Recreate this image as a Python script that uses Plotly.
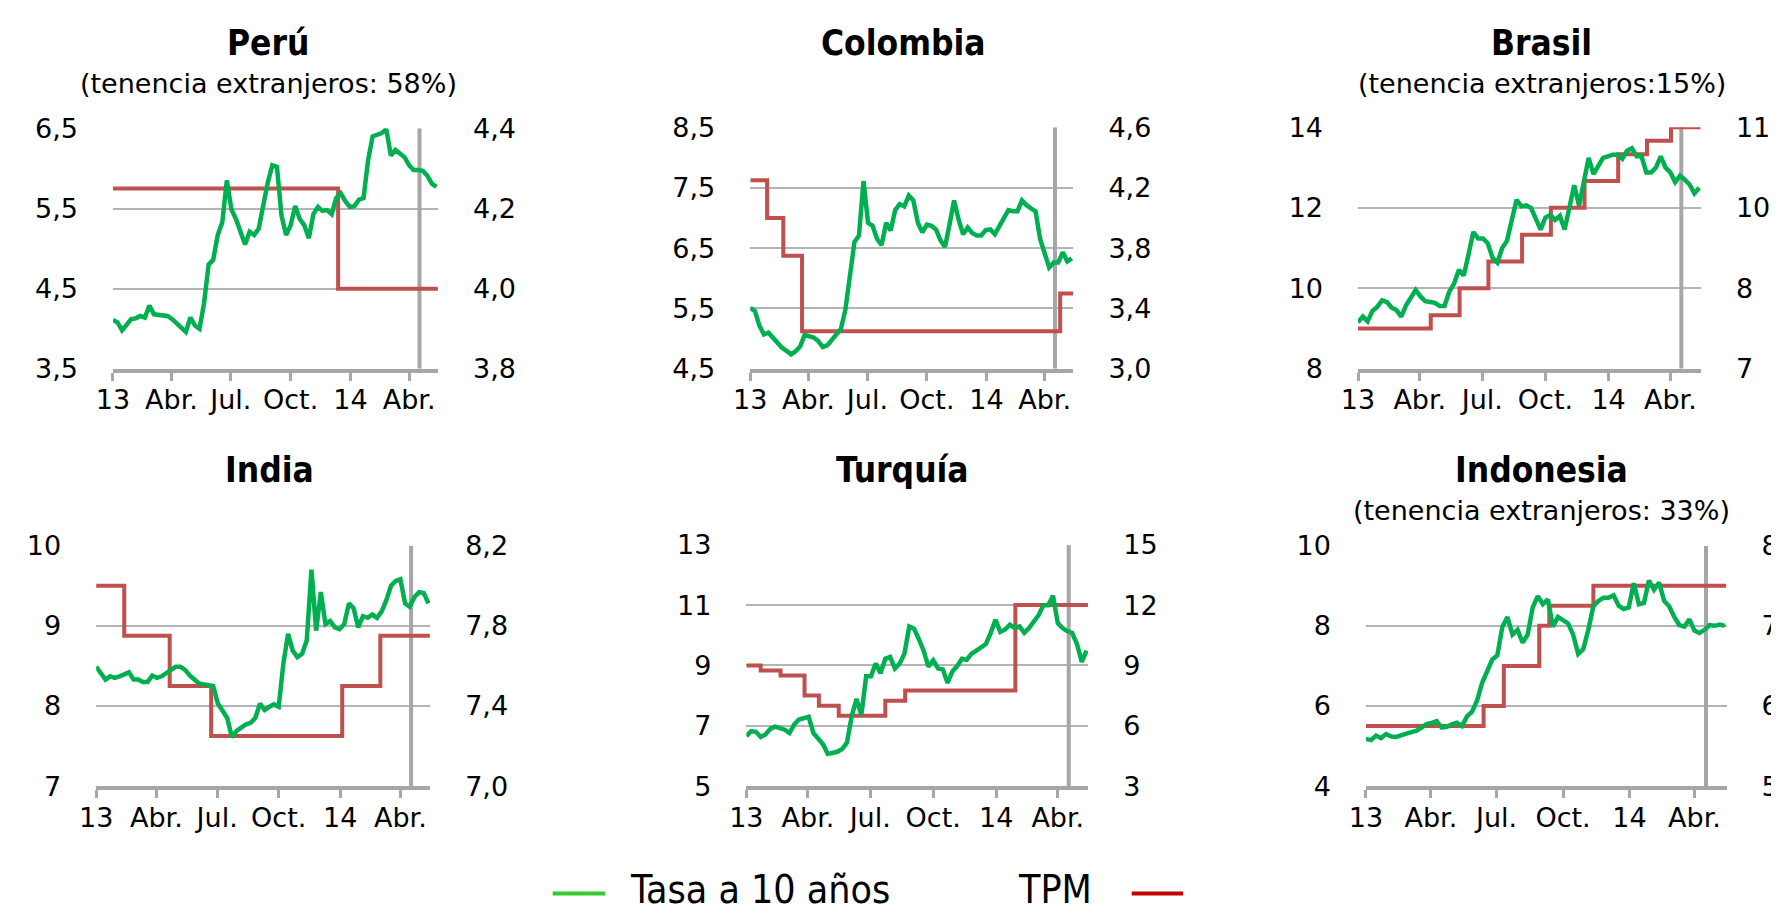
import pandas as pd
import plotly.graph_objects as go

# ---------------------------------------------------------------- datos
fechas = pd.date_range("2013-01-01", periods=72, freq="7D")  # semanal

tasa_peru = [4.11, 4.08, 3.98, 4.04, 4.12, 4.13, 4.16, 4.14, 4.29, 4.18,
             4.17, 4.16, 4.16, 4.12, 4.06, 4.00, 3.96, 4.14, 4.04, 4.00,
             4.32, 4.80, 4.86, 5.17, 5.33, 5.85, 5.49, 5.37, 5.21, 5.05,
             5.21, 5.17, 5.25, 5.57, 5.83, 6.04, 6.02, 5.41, 5.17, 5.29,
             5.53, 5.37, 5.29, 5.13, 5.43, 5.52, 5.47, 5.48, 5.43, 5.63,
             5.69, 5.59, 5.52, 5.53, 5.61, 5.63, 6.10, 6.40, 6.42, 6.44,
             6.49, 6.16, 6.23, 6.19, 6.14, 6.04, 5.98, 5.98, 5.97, 5.91,
             5.81, 5.77]
tasa_colombia = [5.51, 5.46, 5.22, 5.07, 5.10, 5.01, 4.93, 4.85, 4.80, 4.74,
                 4.79, 4.87, 5.06, 5.03, 5.02, 4.96, 4.86, 4.89, 4.98, 5.06,
                 5.16, 5.48, 6.02, 6.60, 6.71, 7.61, 6.92, 6.87, 6.65, 6.55,
                 6.92, 6.79, 7.13, 7.23, 7.19, 7.37, 7.29, 6.92, 6.76, 6.89,
                 6.87, 6.81, 6.63, 6.52, 6.89, 7.29, 6.97, 6.73, 6.84, 6.75,
                 6.71, 6.71, 6.80, 6.81, 6.73, 6.87, 7.02, 7.13, 7.11, 7.11,
                 7.29, 7.21, 7.16, 7.11, 6.65, 6.44, 6.18, 6.26, 6.26, 6.43,
                 6.28, 6.33]
tasa_brasil = [9.16, 9.30, 9.18, 9.44, 9.54, 9.70, 9.66, 9.52, 9.46, 9.30,
               9.58, 9.78, 9.96, 9.80, 9.68, 9.66, 9.64, 9.56, 9.56, 9.92,
               10.12, 10.46, 10.32, 10.84, 11.40, 11.24, 11.24, 11.12, 10.76, 10.64,
               11.00, 11.18, 11.64, 12.20, 12.04, 12.06, 12.00, 11.70, 11.46, 11.76,
               11.82, 11.70, 11.80, 11.46, 12.04, 12.56, 12.06, 12.68, 13.24, 12.84,
               13.04, 13.24, 13.28, 13.32, 13.32, 13.22, 13.42, 13.48, 13.28, 13.28,
               12.88, 12.88, 13.00, 13.28, 13.00, 12.88, 12.64, 12.80, 12.70, 12.58,
               12.36, 12.50]
tasa_india = [8.49, 8.42, 8.33, 8.37, 8.35, 8.37, 8.39, 8.42, 8.33, 8.33,
              8.30, 8.30, 8.38, 8.35, 8.37, 8.41, 8.45, 8.49, 8.49, 8.45,
              8.38, 8.33, 8.28, 8.27, 8.26, 8.25, 8.03, 7.93, 7.85, 7.61,
              7.69, 7.73, 7.77, 7.79, 7.85, 8.03, 7.95, 7.99, 8.02, 7.99,
              8.53, 8.90, 8.69, 8.61, 8.65, 8.82, 9.70, 8.94, 9.42, 9.02,
              9.06, 8.98, 8.96, 9.02, 9.28, 9.22, 8.98, 9.12, 9.10, 9.14,
              9.10, 9.18, 9.32, 9.50, 9.56, 9.58, 9.28, 9.24, 9.36, 9.42,
              9.41, 9.28]
tasa_turquia = [6.66, 6.82, 6.80, 6.63, 6.71, 6.90, 6.97, 6.93, 6.87, 6.76,
                7.05, 7.21, 7.27, 7.30, 6.76, 6.55, 6.39, 6.07, 6.12, 6.14,
                6.23, 6.44, 7.33, 7.89, 7.35, 8.64, 8.64, 9.06, 8.74, 9.22,
                9.28, 8.90, 9.06, 9.39, 10.29, 10.22, 9.87, 9.49, 8.96, 9.17,
                8.90, 8.87, 8.42, 8.80, 8.98, 9.22, 9.19, 9.39, 9.49, 9.58,
                9.71, 10.08, 10.51, 10.11, 10.19, 10.35, 10.24, 10.29, 10.08, 10.24,
                10.45, 10.67, 10.99, 10.99, 11.31, 10.40, 10.24, 10.13, 10.08, 9.71,
                9.12, 9.49]
tasa_indonesia = [5.18, 5.15, 5.26, 5.20, 5.30, 5.24, 5.23, 5.26, 5.31, 5.35,
                  5.38, 5.46, 5.55, 5.58, 5.62, 5.46, 5.48, 5.54, 5.58, 5.50,
                  5.74, 5.86, 6.14, 6.58, 6.86, 7.16, 7.26, 7.98, 8.22, 7.78,
                  7.90, 7.58, 7.78, 8.46, 8.74, 8.54, 8.66, 7.98, 8.22, 8.14,
                  8.06, 7.78, 7.30, 7.42, 7.90, 8.49, 8.62, 8.70, 8.70, 8.76,
                  8.50, 8.42, 8.46, 9.06, 8.54, 8.57, 9.13, 8.90, 9.08, 8.62,
                  8.49, 8.22, 8.02, 7.98, 8.16, 7.88, 7.82, 7.90, 8.02, 8.00,
                  8.03, 8.00]

# TPM (escalones)
tpm_peru_f = ["2013-01-01", "2013-12-13", "2014-05-15"]
tpm_peru = [4.25, 4.00, 4.00]
tpm_colombia_f = ["2013-01-01", "2013-01-27", "2013-02-21", "2013-03-22",
                  "2014-04-25", "2014-05-15"]
tpm_colombia = [4.25, 4.00, 3.75, 3.25, 3.50, 3.50]
tpm_brasil_f = ["2013-01-01", "2013-04-17", "2013-05-29", "2013-07-10",
                "2013-08-28", "2013-10-09", "2013-11-27", "2014-01-15",
                "2014-02-26", "2014-04-02", "2014-05-15"]
tpm_brasil = [7.25, 7.50, 8.00, 8.50, 9.00, 9.50, 10.00, 10.50, 10.75, 11.00, 11.00]
tpm_india_f = ["2013-01-01", "2013-02-12", "2013-04-21", "2013-06-22",
               "2014-01-04", "2014-03-02", "2014-05-15"]
tpm_india = [8.00, 7.75, 7.50, 7.25, 7.50, 7.75, 7.75]
tpm_turquia_f = ["2013-01-01", "2013-01-22", "2013-02-20", "2013-03-27",
                 "2013-04-17", "2013-05-16", "2013-07-23", "2013-08-21",
                 "2014-01-29", "2014-05-15"]
tpm_turquia = [9.00, 8.75, 8.50, 7.50, 7.00, 6.50, 7.25, 7.75, 12.00, 12.00]
tpm_indonesia_f = ["2013-01-01", "2013-06-13", "2013-07-11", "2013-08-29",
                   "2013-09-12", "2013-11-12", "2014-05-15"]
tpm_indonesia = [5.75, 6.00, 6.50, 7.00, 7.25, 7.50, 7.50]

corte = "2014-04-17"  # linea vertical

ticks_x = ["2013-01-01", "2013-04-01", "2013-07-01", "2013-10-01",
           "2014-01-01", "2014-04-01"]
etiquetas_x = ["13", "Abr.", "Jul.", "Oct.", "14", "Abr."]

# ejes: (valores, etiquetas)
izq_peru = ([3.5, 4.5, 5.5, 6.5], ["3,5", "4,5", "5,5", "6,5"])
der_peru = ([3.8, 4.0, 4.2, 4.4], ["3,8", "4,0", "4,2", "4,4"])
izq_colombia = ([4.5, 5.5, 6.5, 7.5, 8.5], ["4,5", "5,5", "6,5", "7,5", "8,5"])
der_colombia = ([3.0, 3.4, 3.8, 4.2, 4.6], ["3,0", "3,4", "3,8", "4,2", "4,6"])
izq_brasil = ([8, 10, 12, 14], ["8", "10", "12", "14"])
der_brasil = ([6.5, 8, 9.5, 11], ["7", "8", "10", "11"])
izq_india = ([7, 8, 9, 10], ["7", "8", "9", "10"])
der_india = ([7.0, 7.4, 7.8, 8.2], ["7,0", "7,4", "7,8", "8,2"])
izq_turquia = ([5, 7, 9, 11, 13], ["5", "7", "9", "11", "13"])
der_turquia = ([3, 6, 9, 12, 15], ["3", "6", "9", "12", "15"])
izq_indonesia = ([4, 6, 8, 10], ["4", "6", "8", "10"])
der_indonesia = ([5, 6, 7, 8], ["5", "6", "7", "8"])

# ---------------------------------------------------------------- estilo
W, H = 1779, 920     # ventana
OFF = 8              # margen por defecto del <body>
VERDE = "#00B050"
ROJO = "#C0504D"
GRIS = "#A6A6A6"
GRILLA = "#B4B4B4"
FUENTE = "DejaVu Sans"
COND = "DejaVu Sans Condensed, DejaVu Sans"
inicio, fin = "2013-01-01", "2014-05-15 12:00"


def px(x):
    return (x - OFF) / (W - OFF)


def py(y):
    return 1 - (y - OFF) / (H - OFF)


paneles = [
    dict(titulo="Perú", sub="(tenencia extranjeros: 58%)", tasa=tasa_peru,
         tf=tpm_peru_f, tpm=tpm_peru, izq=izq_peru, der=der_peru,
         caja=(97, 426, 116, 365), cx=254, ty=28),
    dict(titulo="Colombia", sub=None, tasa=tasa_colombia,
         tf=tpm_colombia_f, tpm=tpm_colombia, izq=izq_colombia, der=der_colombia,
         caja=(742, 1069, 115, 365), cx=897, ty=28),
    dict(titulo="Brasil", sub="(tenencia extranjeros:15%)", tasa=tasa_brasil,
         tf=tpm_brasil_f, tpm=tpm_brasil, izq=izq_brasil, der=der_brasil,
         caja=(1357, 1704, 115, 365), cx=1543, ty=28),
    dict(titulo="India", sub=None, tasa=tasa_india,
         tf=tpm_india_f, tpm=tpm_india, izq=izq_india, der=der_india,
         caja=(80, 418, 548, 797), cx=255, ty=470),
    dict(titulo="Turquía", sub=None, tasa=tasa_turquia,
         tf=tpm_turquia_f, tpm=tpm_turquia, izq=izq_turquia, der=der_turquia,
         caja=(738, 1084, 547, 797), cx=896, ty=470),
    dict(titulo="Indonesia", sub="(tenencia extranjeros: 33%)", tasa=tasa_indonesia,
         tf=tpm_indonesia_f, tpm=tpm_indonesia, izq=izq_indonesia, der=der_indonesia,
         caja=(1365, 1730, 548, 797), cx=1543, ty=470),
]

fig = go.Figure()
layout = dict(
    width=W - OFF, height=H - OFF, margin=dict(l=0, r=0, t=0, b=0),
    paper_bgcolor="white", plot_bgcolor="white", showlegend=False,
    font=dict(family=FUENTE, size=27, color="black"),
    annotations=[], shapes=[],
)
tfont = dict(family=FUENTE, size=27, color="black")

for i, p in enumerate(paneles, start=1):
    xa = "x" if i == 1 else f"x{i}"
    yb = "y" if i == 1 else f"y{2 * i - 1}"   # eje base: TPM (derecha)
    yo = f"y{2 * i}"                          # eje superpuesto: tasa (izquierda)
    x0, x1, y0, y1 = p["caja"]
    iv, it = p["izq"]
    dv, dt = p["der"]

    # linea vertical gris, luego TPM, y la tasa encima
    fig.add_trace(go.Scatter(x=[corte, corte], y=[dv[0], dv[-1]], xaxis=xa, yaxis=yb,
                             mode="lines", line=dict(color=GRIS, width=4),
                             hoverinfo="skip"))
    fig.add_trace(go.Scatter(x=p["tf"], y=p["tpm"], xaxis=xa, yaxis=yb, mode="lines",
                             line=dict(color=ROJO, width=4, shape="hv"),
                             hoverinfo="skip"))
    fig.add_trace(go.Scatter(x=fechas, y=p["tasa"], xaxis=xa, yaxis=yo, mode="lines",
                             line=dict(color=VERDE, width=4.5), hoverinfo="skip"))

    layout["xaxis" if i == 1 else f"xaxis{i}"] = dict(
        domain=[px(x0), px(x1)], anchor=yb, type="date", range=[inicio, fin],
        tickvals=ticks_x, ticktext=etiquetas_x, ticks="outside", ticklen=8,
        tickwidth=3, tickcolor=GRIS, showline=True, linecolor=GRIS, linewidth=4,
        showgrid=False, zeroline=False, tickfont=tfont, ticklabelstandoff=-4,
        fixedrange=True)
    layout["yaxis" if i == 1 else f"yaxis{2 * i - 1}"] = dict(
        domain=[py(y1), py(y0)], anchor=xa, side="right",
        range=[dv[0], dv[-1]], tickvals=dv, ticktext=dt, showgrid=False,
        zeroline=False, showline=False, ticks="", tickfont=tfont,
        ticklabelstandoff=34, fixedrange=True)
    layout[f"yaxis{2 * i}"] = dict(
        overlaying=yb, anchor=xa, side="left", range=[iv[0], iv[-1]],
        tickvals=iv, ticktext=it, showgrid=True, gridcolor=GRILLA, gridwidth=2,
        zeroline=False, showline=False, ticks="", tickfont=tfont,
        ticklabelstandoff=34, fixedrange=True)

    layout["annotations"].append(dict(
        text=p["titulo"], x=px(p["cx"]), y=py(p["ty"]), xref="paper",
        yref="paper", xanchor="center", yanchor="middle", showarrow=False,
        font=dict(family=COND, size=35, color="black", weight="bold")))
    if p["sub"]:
        layout["annotations"].append(dict(
            text=p["sub"], x=px(p["cx"]), y=py(p["ty"] + 42), xref="paper",
            yref="paper", xanchor="center", yanchor="middle", showarrow=False,
            font=dict(family=FUENTE, size=27, color="black")))

# leyenda
layout["shapes"] += [
    dict(type="line", xref="paper", yref="paper", x0=px(542), x1=px(595),
         y0=py(908), y1=py(908), line=dict(color="#33CC33", width=4)),
    dict(type="line", xref="paper", yref="paper", x0=px(1128), x1=px(1180),
         y0=py(908), y1=py(908), line=dict(color="#C00000", width=4)),
]
layout["annotations"] += [
    dict(text="Tasa a 10 años", x=px(618), y=py(904), xref="paper", yref="paper",
         xanchor="left", yanchor="middle", showarrow=False,
         font=dict(family=COND, size=39, color="black")),
    dict(text="TPM", x=px(1011), y=py(904), xref="paper", yref="paper",
         xanchor="left", yanchor="middle", showarrow=False,
         font=dict(family=COND, size=39, color="black")),
]

fig.update_layout(**layout)
fig.write_html("out.html")
